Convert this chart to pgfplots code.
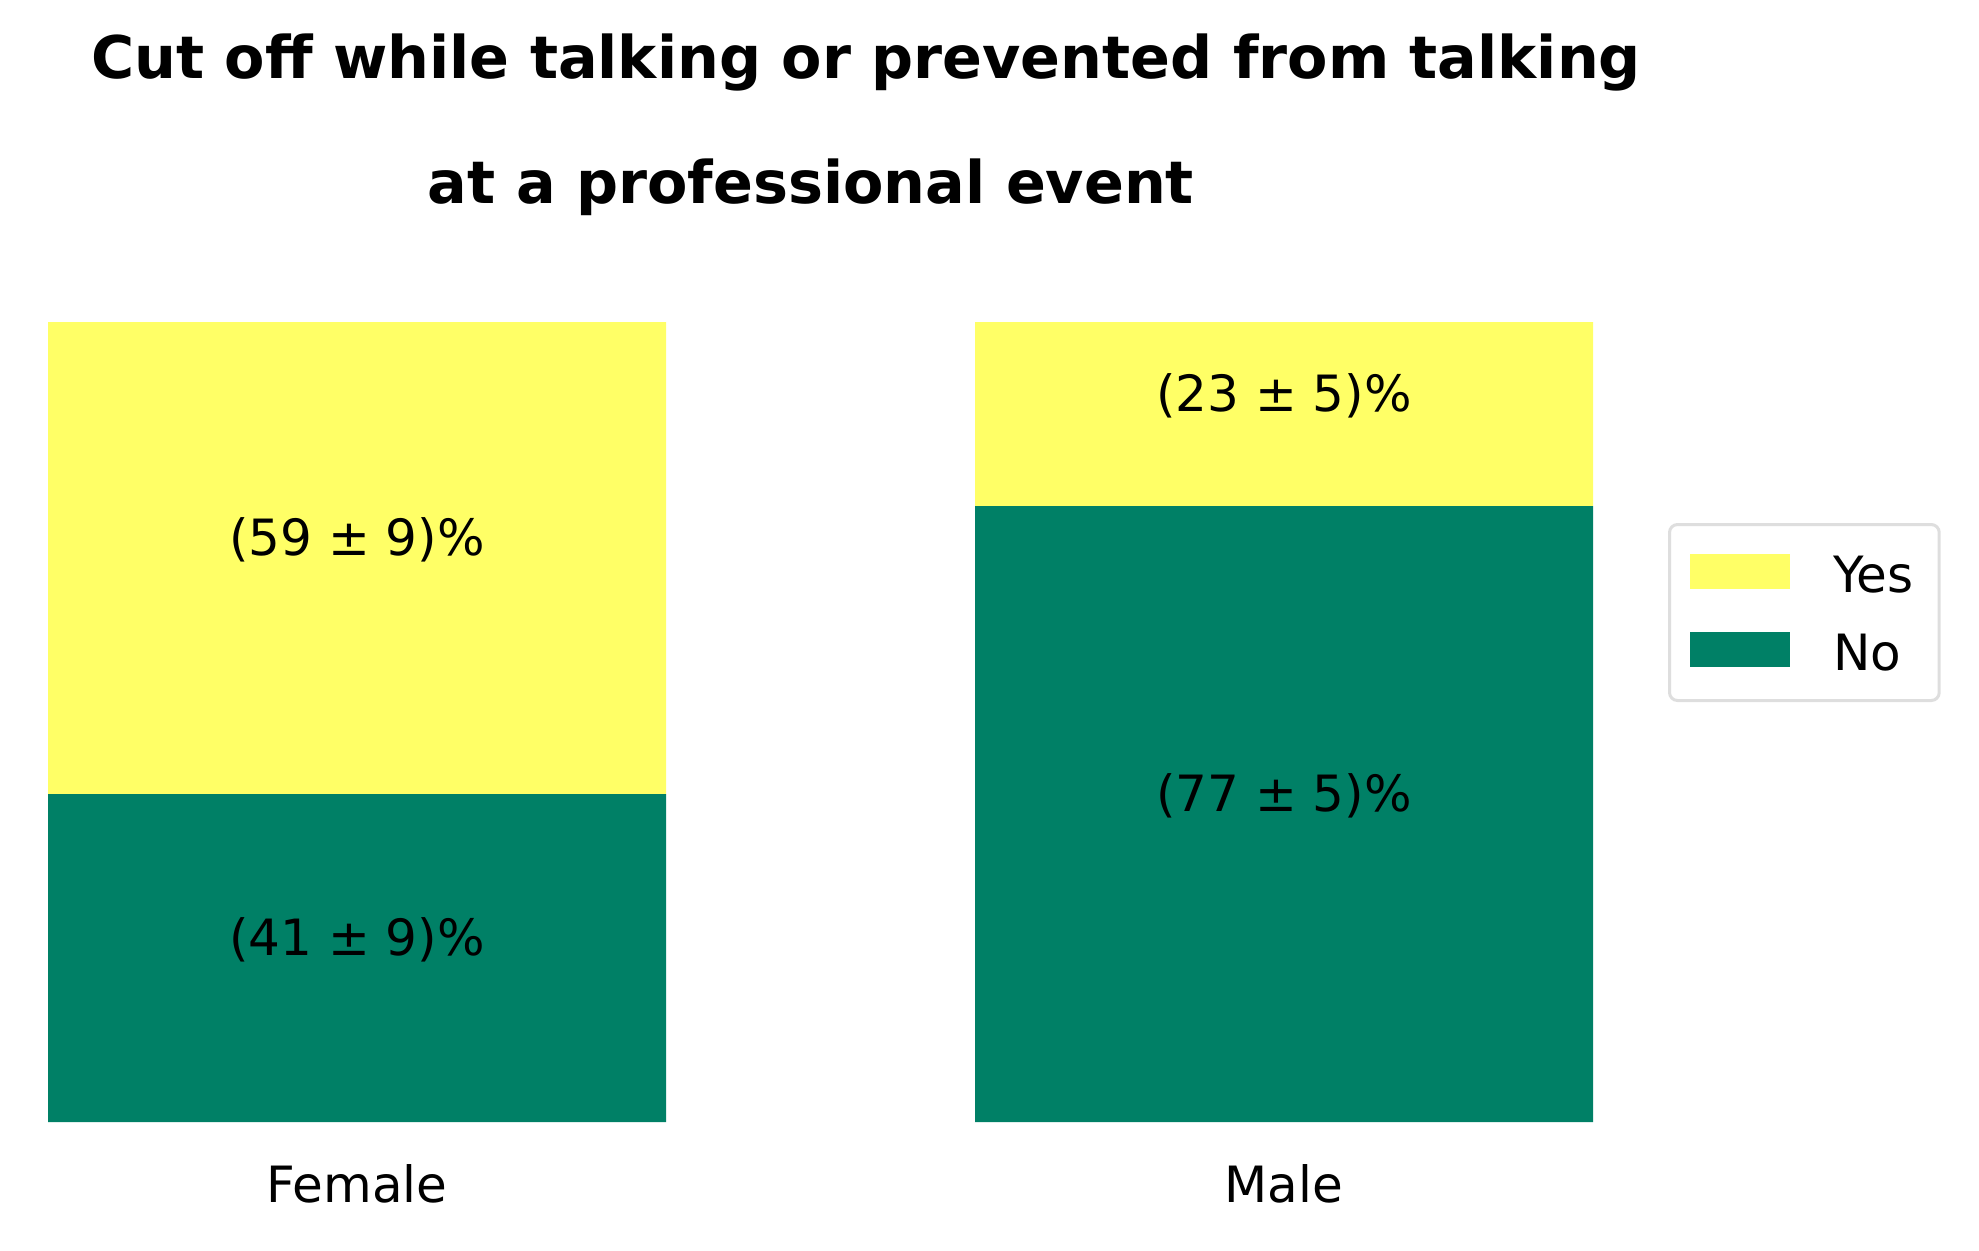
\documentclass[border=0pt]{standalone}
\usepackage{fontspec}
\setmainfont{DejaVu Sans}
\usepackage{pgfplots}
\pgfplotsset{compat=1.18}
\definecolor{cgreen}{HTML}{008066}
\definecolor{cyellow}{HTML}{FFFF66}
\newcommand{\lblfont}{\fontsize{25pt}{30pt}\selectfont}
\newcommand{\ttlfont}{\fontsize{29.4pt}{35pt}\selectfont\bfseries}
\begin{document}
\begin{tikzpicture}
\path[use as bounding box] (0pt,0pt) rectangle (989.5pt,-625pt);
\node[anchor=base, font=\ttlfont, inner sep=0pt] at (433pt,-39pt) {Cut off while talking or prevented from talking};
\node[anchor=base, font=\ttlfont, inner sep=0pt] at (405.5pt,-101.5pt) {at a professional event};
\begin{axis}[
  at={(24pt,-561pt)}, anchor=south west,
  scale only axis, width=772.5pt, height=400pt,
  ybar stacked, bar width=0.6667,
  xmin=-0.33333, xmax=1.33333, ymin=0, ymax=100,
  enlargelimits=false,
  axis line style={draw=none}, major tick length=0pt,
  ytick=\empty, xtick={0,1}, xticklabels={Female,Male},
  xticklabel style={font=\lblfont, anchor=base, yshift=-40pt},
  legend cell align=left,
  reverse legend,
  legend image code/.code={
    \path[fill=none, draw=none] (0pt,-10.25pt) rectangle (50pt,28.75pt);
    \path[#1, sharp corners] (0pt,1.75pt) rectangle (50pt,19.25pt);
  },
  legend style={at={(1.04854,0.74875)}, anchor=north west,
    draw=black!13, line width=1.5pt, rounded corners=4pt, fill=white,
    inner xsep=10.25pt, inner ysep=5pt, row sep=0pt, column sep=21.5pt,
    font=\lblfont, nodes={inner sep=0pt, anchor=base west}},
]
\addplot[fill=cgreen, draw=none] coordinates {(0,41) (1,77)};
\addlegendentry{No}
\addplot[fill=cyellow, draw=none] coordinates {(0,59) (1,23)};
\addlegendentry{Yes\hspace*{2.5pt}}
\coordinate (fn) at (axis cs:0,20.5);
\coordinate (fy) at (axis cs:0,70.5);
\coordinate (mn) at (axis cs:1,38.5);
\coordinate (my) at (axis cs:1,88.5);
\end{axis}
\node[anchor=base, font=\lblfont, inner sep=0pt, yshift=1.5pt] at (fn) {(41 ± 9)\%};
\node[anchor=base, font=\lblfont, inner sep=0pt, yshift=1.5pt] at (fy) {(59 ± 9)\%};
\node[anchor=base, font=\lblfont, inner sep=0pt, yshift=1.5pt] at (mn) {(77 ± 5)\%};
\node[anchor=base, font=\lblfont, inner sep=0pt, yshift=1.5pt] at (my) {(23 ± 5)\%};
\end{tikzpicture}
\end{document}
